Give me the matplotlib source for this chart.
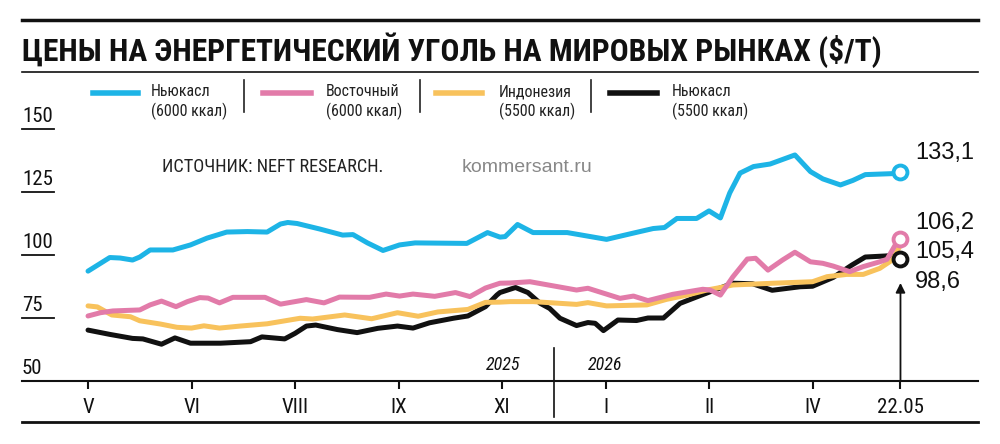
"""
Coal prices on world markets, recreated with matplotlib.
"""

import matplotlib
matplotlib.use("Agg")
from matplotlib import pyplot as plt
from matplotlib import font_manager as fm
from matplotlib.lines import Line2D

# x positions are in units of the labelled month ticks (V = 0, VI = 1, ...)
month_labels = ["V", "VI", "VIII", "IX", "XI", "I", "II", "IV", "22.05"]
month_pos = [0, 1, 2, 3, 4, 5, 6, 7, 7.85]
year_split = 4.5

series_names = ["Ньюкасл\n(6000 ккал)", "Восточный\n(6000 ккал)",
                "Индонезия\n(5500 ккал)", "Ньюкасл\n(5500 ккал)"]
colors = ["#1db4e6", "#e27ba9", "#f8c25c", "#111111"]

newc6000_x = [0.00, 0.21, 0.31, 0.43, 0.50, 0.60, 0.82, 0.99, 1.15, 1.34, 1.54, 1.73,
              1.86, 1.93, 2.02, 2.24, 2.46, 2.56, 2.70, 2.85, 3.01, 3.16, 3.66, 3.86,
              3.98, 4.03, 4.15, 4.30, 4.63, 5.01, 5.27, 5.46, 5.57, 5.69, 5.88, 6.00,
              6.11, 6.20, 6.30, 6.43, 6.59, 6.83, 6.98, 7.10, 7.27, 7.39, 7.51, 7.78, 7.85]
newc6000_y = [93.6, 99.0, 98.8, 98.0, 99.2, 102.0, 102.0, 104.0, 106.7, 109.1, 109.3, 109.1,
              112.3, 112.9, 112.5, 110.3, 107.9, 108.1, 104.8, 101.8, 104.0, 104.8, 104.6, 108.9,
              107.1, 107.3, 112.1, 108.9, 108.9, 106.2, 108.7, 110.5, 110.9, 114.5, 114.5, 117.5,
              114.7, 124.6, 132.5, 135.1, 136.1, 139.7, 133.1, 130.2, 127.8, 129.6, 131.9, 132.3, 133.1]

east_x = [0.00, 0.12, 0.24, 0.50, 0.60, 0.71, 0.85, 0.96, 1.08, 1.16, 1.27, 1.40,
          1.71, 1.86, 2.11, 2.28, 2.43, 2.72, 2.88, 3.01, 3.14, 3.35, 3.55, 3.69,
          3.84, 3.98, 4.08, 4.27, 4.72, 4.83, 5.14, 5.27, 5.41, 5.65, 5.94, 6.01,
          6.11, 6.23, 6.37, 6.45, 6.57, 6.71, 6.83, 6.98, 7.10, 7.20, 7.36, 7.49,
          7.65, 7.72, 7.80, 7.85]
east_y = [75.8, 77.1, 77.8, 78.2, 80.2, 81.7, 79.5, 81.5, 83.1, 82.9, 81.0, 83.2,
          83.2, 80.5, 82.3, 81.0, 83.3, 83.2, 84.5, 83.7, 84.5, 83.6, 85.1, 83.5,
          86.9, 88.8, 88.9, 89.4, 86.1, 86.8, 82.8, 83.7, 81.9, 84.4, 86.4, 86.1,
          84.1, 91.3, 98.4, 98.7, 94.0, 98.0, 101.1, 97.3, 96.7, 95.6, 93.4, 95.4,
          97.3, 98.3, 104.0, 106.2]

indo_x = [0.00, 0.09, 0.23, 0.41, 0.50, 0.70, 0.86, 1.00, 1.12, 1.27, 1.47, 1.73,
          2.05, 2.17, 2.48, 2.74, 2.99, 3.19, 3.38, 3.67, 3.84, 3.98, 4.08, 4.30,
          4.72, 4.83, 5.01, 5.40, 5.59, 5.79, 5.98, 6.11, 6.23, 6.62, 7.00, 7.14,
          7.33, 7.49, 7.65, 7.77, 7.87]
indo_y = [79.8, 79.4, 76.2, 75.5, 73.9, 72.6, 71.3, 71.0, 71.9, 71.0, 71.8, 72.7,
          74.9, 74.6, 76.2, 74.7, 77.1, 75.7, 77.4, 78.4, 81.2, 81.3, 81.5, 81.5,
          80.4, 81.1, 79.8, 80.2, 82.4, 84.1, 86.1, 87.1, 88.1, 88.8, 89.4, 91.4,
          92.3, 92.3, 94.7, 98.0, 105.4]

newc5500_x = [0.00, 0.21, 0.43, 0.53, 0.71, 0.84, 0.99, 1.28, 1.57, 1.68, 1.90, 2.00,
              2.11, 2.20, 2.41, 2.60, 2.80, 2.99, 3.14, 3.30, 3.53, 3.67, 3.84, 3.95,
              3.98, 4.13, 4.25, 4.37, 4.46, 4.56, 4.72, 4.83, 4.90, 4.98, 5.12, 5.30,
              5.41, 5.56, 5.72, 5.94, 6.23, 6.42, 6.61, 6.88, 7.00, 7.20, 7.38, 7.51,
              7.70, 7.77, 7.85]
newc5500_y = [70.2, 68.5, 66.9, 66.7, 64.6, 67.1, 65.0, 65.0, 65.6, 67.5, 66.7, 68.9,
              71.8, 72.2, 70.4, 69.2, 70.9, 71.8, 71.0, 73.1, 74.9, 75.8, 79.5, 84.1,
              85.1, 87.1, 85.1, 80.8, 78.8, 74.9, 72.0, 73.2, 72.9, 70.0, 74.2, 74.0,
              75.0, 75.0, 80.8, 84.3, 88.8, 88.6, 86.0, 87.4, 87.6, 91.1, 96.0, 99.2,
              99.6, 99.8, 98.6]

series_x = [newc6000_x, east_x, indo_x, newc5500_x]
series_y = [newc6000_y, east_y, indo_y, newc5500_y]
end_marker = [True, True, False, True]
label_y = [140.5, 112.7, 101.2, 89.3]  # where the end values are written


def pick_narrow():
    # the original uses a condensed grotesque; take whatever narrow face exists
    faces = fm.fontManager.ttflist
    names = {f.name for f in faces}
    for name in ["Liberation Sans Narrow", "Roboto Condensed", "Open Sans Condensed"]:
        if name in names:
            return {"family": [name, "DejaVu Sans"]}
    for f in faces:
        if f.name == "DejaVu Sans" and "condensed" in str(f.stretch):
            return {"family": ["DejaVu Sans"], "stretch": "condensed"}
    return {"family": ["Roboto", "DejaVu Sans"]}


NARROW = pick_narrow()
REGULAR = {"family": ["Liberation Sans", "DejaVu Sans"]}

W, H = 1000, 444
fig = plt.figure(figsize=(W / 100, H / 100), dpi=100)
renderer = fig.canvas.get_renderer()


def fx(x):
    return x / W


def fy(y):
    return 1 - y / H


def fit_width(txt, width_px):
    # scale a text's font size so it spans the given width
    w = txt.get_window_extent(renderer).width
    txt.set_fontsize(txt.get_fontsize() * width_px / w)


# header rules and title
fig.add_artist(Line2D([fx(22), fx(978)], [fy(20), fy(20)], color="#111", lw=2.5))
fig.add_artist(Line2D([fx(22), fx(978)], [fy(72), fy(72)], color="#111", lw=1.2))
title = fig.text(fx(22), fy(50), "ЦЕНЫ НА ЭНЕРГЕТИЧЕСКИЙ УГОЛЬ НА МИРОВЫХ РЫНКАХ ($/Т)",
                 fontweight="bold", fontsize=22, va="center", ha="left", color="#111",
                 **NARROW)
fit_width(title, 860)

# legend, drawn by hand
leg_line_x = [(93, 138), (263, 311), (436, 482), (610, 657)]
leg_text_x = [151, 326, 499, 672]
for (x0, x1), tx, name, c in zip(leg_line_x, leg_text_x, series_names, colors):
    fig.add_artist(Line2D([fx(x0), fx(x1)], [fy(93), fy(93)], color=c, lw=4))
    t = fig.text(fx(tx), fy(102), name, fontsize=12, va="center", ha="left",
                 color="#222", linespacing=1.25, **NARROW)
    if name.startswith("Ньюкасл\n(6"):
        fit_width(t, 76)
        leg_size = t.get_fontsize()
for t in fig.texts[1:]:
    t.set_fontsize(leg_size)
for sx in [244, 420, 591]:
    fig.add_artist(Line2D([fx(sx), fx(sx)], [fy(80), fy(112)], color="#222", lw=1.2))

src = fig.text(fx(162), fy(167), "ИСТОЧНИК: NEFT RESEARCH.", fontsize=12,
               va="center", ha="left", color="#222", **NARROW)
fit_width(src, 221)
fig.text(fx(462), fy(167), "kommersant.ru", fontsize=14, va="center", ha="left",
         color="#888", **REGULAR)

ax = fig.add_axes([fx(22), fy(381), fx(978) - fx(22), (381 - 129) / H])
xmin, xmax = -0.638, 8.599
ax.set_xlim(xmin, xmax)
ax.set_ylim(50, 150)
ax.patch.set_alpha(0)
for side in ["top", "right", "left"]:
    ax.spines[side].set_visible(False)
ax.spines["bottom"].set_linewidth(1.5)
ax.spines["bottom"].set_color("#111")
ax.set_yticks([])
ax.set_xticks(month_pos)
ax.set_xticklabels(month_labels, fontsize=15, color="#111", **NARROW)
ax.tick_params(axis="x", direction="out", length=6, width=1.5, color="#111", pad=6)

# y labels with short underlines
for v in [50, 75, 100, 125, 150]:
    ax.text(xmin, v + 1.2, str(v), fontsize=15, va="bottom", ha="left",
            color="#111", **NARROW)
    if v != 50:
        ax.plot([xmin, -0.33], [v, v], color="#111", lw=1.3, clip_on=False)

# the series, black at the bottom
for i in [3, 2, 1, 0]:
    ax.plot(series_x[i], series_y[i], color=colors[i], lw=3.6,
            solid_joinstyle="round", solid_capstyle="round", zorder=3 + (3 - i))
    if end_marker[i]:
        ax.plot(series_x[i][-1], series_y[i][-1], "o", ms=10, mfc="white",
                mec=colors[i], mew=2.8, zorder=10)
    ax.text(7.99, label_y[i], f"{series_y[i][-1]:.1f}".replace(".", ","),
            fontsize=17, va="center", ha="left", color="#111", **REGULAR)

# arrow pointing to the last date
ax.annotate("", xy=(month_pos[-1], 88.9), xytext=(month_pos[-1], 50),
            arrowprops=dict(arrowstyle="-|>", color="#111", lw=1.3,
                            mutation_scale=14, shrinkA=0, shrinkB=0))

# year divider
ax.plot([year_split, year_split], [63.1, 35.7], color="#111", lw=1.2, clip_on=False)
ax.text(year_split - 0.32, 56.3, "2025", style="italic", fontsize=13,
        ha="right", va="center", color="#111", **NARROW)
ax.text(year_split + 0.33, 56.3, "2026", style="italic", fontsize=13,
        ha="left", va="center", color="#111", **NARROW)

# bottom rule
fig.add_artist(Line2D([fx(22), fx(978)], [fy(422), fy(422)], color="#111", lw=2))

fig.savefig("out.png", dpi=100)
